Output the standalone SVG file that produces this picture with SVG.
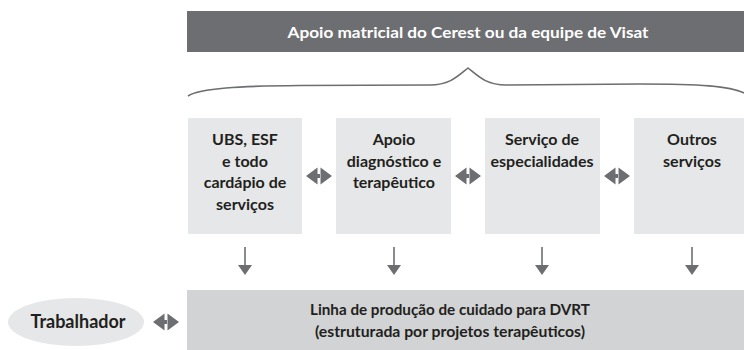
<svg xmlns="http://www.w3.org/2000/svg" width="744" height="350" viewBox="0 0 744 350">
<style>
.t{font-family:Lato,"Liberation Sans",sans-serif;font-weight:700;text-anchor:middle}
.wt{fill:#ffffff;font-size:16px}
.bt{fill:#231f20;font-size:16px}
.box{fill:#e6e7e8}
.bar{fill:#d1d3d4}
.ar{fill:#6d6e71}
.ln{stroke:#6d6e71;stroke-width:1.6;fill:none}
</style>
<defs>
<g id="dbl">
<path class="ar" d="M-13,0 L-1.5,-8.5 L-1.5,8.5 Z M13,0 L1.5,-8.5 L1.5,8.5 Z M-2,-2 H2 V2 H-2 Z"/>
</g>
<g id="dn">
<line class="ln" x1="0" y1="247" x2="0" y2="266"/>
<path class="ar" d="M-7,265 L7,265 L0,275 Z"/>
</g>
</defs>
<rect width="744" height="350" fill="#ffffff"/>
<g id="top">
<rect x="187" y="11" width="557" height="41" fill="#6d6e71"/>
<text class="t wt" x="468" y="38" textLength="361" lengthAdjust="spacingAndGlyphs">Apoio matricial do Cerest ou da equipe de Visat</text>
</g>
<g id="box1">
<rect class="box" x="188" y="118" width="114" height="116"/>
<text class="t bt" x="245" y="145">UBS, ESF</text>
<text class="t bt" x="245" y="166.5">e todo</text>
<text class="t bt" x="245" y="188">cardápio de</text>
<text class="t bt" x="245" y="209.5">serviços</text>
</g>
<g id="box2">
<rect class="box" x="336" y="118" width="115" height="116"/>
<text class="t bt" x="394" y="145">Apoio</text>
<text class="t bt" x="394" y="166.5">diagnóstico e</text>
<text class="t bt" x="394" y="188">terapêutico</text>
</g>
<g id="box3">
<rect class="box" x="485" y="118" width="115" height="116"/>
<text class="t bt" x="542" y="145">Serviço de</text>
<text class="t bt" x="542" y="166.5">especialidades</text>
</g>
<g id="box4">
<rect class="box" x="634" y="118" width="110" height="116"/>
<text class="t bt" x="692" y="145">Outros</text>
<text class="t bt" x="692" y="166.5">serviços</text>
</g>
<g id="linha">
<rect class="bar" x="187" y="290" width="557" height="60"/>
<text class="t bt" x="450" y="315" textLength="280" lengthAdjust="spacingAndGlyphs">Linha de produção de cuidado para DVRT</text>
<text class="t bt" x="450" y="337" textLength="270" lengthAdjust="spacingAndGlyphs">(estruturada por projetos terapêuticos)</text>
</g>
<g id="trabalhador">
<ellipse cx="76" cy="322" rx="68" ry="24" fill="#e6e7e8"/>
<text class="t bt" x="78" y="328" style="font-size:18px">Trabalhador</text>
</g>
<g id="connectors">
<path class="ln" d="M188,96 C200,88 240,86 300,85.5 L430,85 C450,85 458,76 468,68 C478,76 486,85 506,85 L640,84 C700,84 730,86 744,93"/>
<use href="#dbl" x="319" y="176"/>
<use href="#dbl" x="468" y="176"/>
<use href="#dbl" x="617" y="176"/>
<use href="#dbl" x="166" y="322"/>
<use href="#dn" x="245" y="0"/>
<use href="#dn" x="394" y="0"/>
<use href="#dn" x="542" y="0"/>
<use href="#dn" x="692" y="0"/>
</g>
</svg>
